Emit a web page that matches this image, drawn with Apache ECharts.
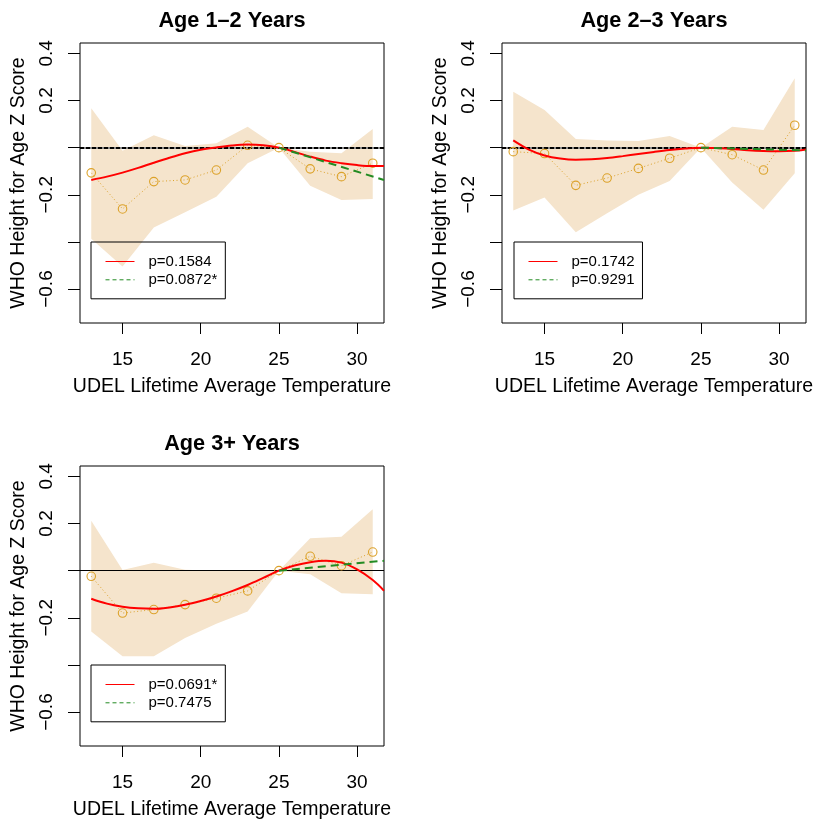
<!DOCTYPE html>
<html>
<head>
<meta charset="utf-8">
<script src="https://cdn.jsdelivr.net/npm/echarts@6/dist/echarts.min.js"></script>
<style>
  html, body { margin: 0; padding: 0; background: #fff; }
  #chart { width: 820px; height: 823px; }
</style>
</head>
<body>
<div id="chart"></div>
<script>
// Temperature bins (binned means with confidence band)
const binTemps = [13, 15, 17, 19, 21, 23, 25, 27, 29, 31];
// Temperatures at which the fitted spline curves are evaluated
const fitTemps = [13, 14, 15, 16, 17, 18, 19, 20, 21, 22, 23, 24, 25, 26, 27, 28, 29, 30, 31, 31.72];
// Temperatures for the linear spline piece above 25 degrees
const linTemps = [25, 31.72];

const panelTitles = ['Age 1\u20132 Years', 'Age 2\u20133 Years', 'Age 3+ Years'];
const xTickValues = [15, 20, 25, 30];
const yTickValues = [-0.6, -0.4, -0.2, 0, 0.2, 0.4];
const yLabelValues = [0.4, 0.2, -0.2, -0.6];

// Age 1-2
const mean1 = [-0.107, -0.260, -0.144, -0.137, -0.095, 0.010, 0, -0.090, -0.123, -0.066];
const upper1 = [0.167, -0.013, 0.053, 0.007, 0.019, 0.089, 0, -0.017, -0.024, 0.079];
const lower1 = [-0.387, -0.504, -0.339, -0.274, -0.208, -0.066, 0, -0.162, -0.222, -0.218];
const cubic1 = [-0.137, -0.123, -0.106, -0.086, -0.064, -0.043, -0.024, -0.009, 0.001, 0.009,
                0.013, 0.010, 0, -0.018, -0.038, -0.055, -0.066, -0.074, -0.078, -0.078];
const linear1 = [0, -0.137];
const pvals1 = ['p=0.1584', 'p=0.0872*'];

// Age 2-3
const mean2 = [-0.017, -0.025, -0.160, -0.129, -0.088, -0.045, 0, -0.030, -0.095, 0.095];
const upper2 = [0.237, 0.160, 0.037, 0.030, 0.028, 0.049, 0, 0.089, 0.075, 0.294];
const lower2 = [-0.267, -0.212, -0.359, -0.278, -0.200, -0.141, 0, -0.148, -0.264, -0.109];
const cubic2 = [0.031, -0.008, -0.033, -0.046, -0.051, -0.049, -0.044, -0.036, -0.027, -0.018,
                -0.010, -0.004, 0, -0.002, -0.006, -0.011, -0.014, -0.015, -0.013, -0.008];
const linear2 = [0, -0.012];
const pvals2 = ['p=0.1742', 'p=0.9291'];

// Age 3+
const mean3 = [-0.024, -0.180, -0.165, -0.144, -0.117, -0.086, 0, 0.061, 0.021, 0.079];
const upper3 = [0.212, 0.003, 0.034, 0.004, 0.000, -0.002, 0, 0.137, 0.144, 0.260];
const lower3 = [-0.258, -0.363, -0.363, -0.286, -0.225, -0.173, 0, -0.015, -0.096, -0.100];
const cubic3 = [-0.119, -0.140, -0.153, -0.160, -0.162, -0.156, -0.145, -0.129, -0.110, -0.087,
                -0.061, -0.031, 0, 0.022, 0.036, 0.042, 0.034, 0.005, -0.040, -0.085];
const linear3 = [0, 0.042];
const pvals3 = ['p=0.0691*', 'p=0.7475'];

const panels = [
  { mean: mean1, upper: upper1, lower: lower1, cubic: cubic1, linear: linear1, pv: pvals1, dashedZero: true },
  { mean: mean2, upper: upper2, lower: lower2, cubic: cubic2, linear: linear2, pv: pvals2, dashedZero: true },
  { mean: mean3, upper: upper3, lower: lower3, cubic: cubic3, linear: linear3, pv: pvals3, dashedZero: false }
];

const FONT = 'Liberation Sans, Arial, Helvetica, sans-serif';
const BAND = '#F5E4CC';
const GOLD = '#DCA22A';
const RED = '#FF0000';
const GREEN = '#228B22';

// layout of the three plotting regions
const boxes = [
  { left: 80, top: 43, width: 304, height: 280 },
  { left: 502, top: 43, width: 304, height: 280 },
  { left: 80, top: 466, width: 304, height: 280 }
];
const legendPos = [
  { left: 91, top: 242 },
  { left: 514, top: 242 },
  { left: 91, top: 665 }
];

const zip = (xs, ys) => xs.map((x, i) => [x, ys[i]]);
const fmtMinus = v => (v < 0 ? '\u2212' + Math.abs(v).toFixed(1) : v.toFixed(1));

const grid = [], xAxis = [], yAxis = [], series = [], legend = [], graphic = [];

panels.forEach((p, k) => {
  const b = boxes[k];
  grid.push({
    left: b.left, top: b.top, width: b.width, height: b.height,
    show: true, borderColor: '#000', borderWidth: 1, backgroundColor: 'transparent'
  });
  xAxis.push({
    type: 'value', gridIndex: k, min: 12.28, max: 31.72,
    name: 'UDEL Lifetime Average Temperature', nameLocation: 'middle', nameGap: 54,
    nameTextStyle: { fontFamily: FONT, fontSize: 19.5, color: '#000' },
    axisLine: { show: false, onZero: false },
    splitLine: { show: false },
    axisTick: { show: true, inside: false, length: 11, customValues: xTickValues,
                lineStyle: { color: '#000', width: 1 } },
    axisLabel: { show: true, margin: 27, customValues: xTickValues,
                 fontFamily: FONT, fontSize: 19, color: '#000' }
  });
  yAxis.push({
    type: 'value', gridIndex: k, min: -0.744, max: 0.444,
    name: 'WHO Height for Age Z Score', nameLocation: 'middle', nameGap: 51,
    nameTextStyle: { fontFamily: FONT, fontSize: 19.5, color: '#000' },
    axisLine: { show: false, onZero: false },
    splitLine: { show: false },
    axisTick: { show: true, inside: false, length: 12, customValues: yTickValues,
                lineStyle: { color: '#000', width: 1 } },
    axisLabel: { show: true, margin: 24, rotate: 90, customValues: yLabelValues,
                 formatter: v => fmtMinus(v),
                 fontFamily: FONT, fontSize: 19, color: '#000' }
  });

  const zeroLines = p.dashedZero
    ? [
        { yAxis: 0, lineStyle: { color: '#8a8a8a', width: 2, type: 'solid' } },
        { yAxis: 0, lineStyle: { color: '#000', width: 2, type: [4, 2] } }
      ]
    : [ { yAxis: 0, lineStyle: { color: '#000', width: 1, type: 'solid' } } ];

  // confidence band as one polygon: upper bound left to right, lower bound back
  const bandRows = binTemps.map((x, i) => [x, p.lower[i], p.upper[i]]);
  series.push({
    type: 'custom', xAxisIndex: k, yAxisIndex: k, name: 'band' + k,
    data: bandRows, silent: true, z: 1,
    encode: { x: 0, y: [1, 2] },
    renderItem: (params, api) => {
      if (params.dataIndex !== 0) return null;
      const top = bandRows.map(r => api.coord([r[0], r[2]]));
      const bottom = bandRows.map(r => api.coord([r[0], r[1]])).reverse();
      return {
        type: 'polygon',
        shape: { points: top.concat(bottom) },
        style: { fill: BAND, stroke: null }
      };
    }
  });
  // binned means
  series.push({
    type: 'line', xAxisIndex: k, yAxisIndex: k, name: 'means' + k,
    data: zip(binTemps, p.mean),
    symbol: 'circle', symbolSize: 8.5, showSymbol: true, silent: true, z: 3,
    itemStyle: { color: 'rgba(0,0,0,0)', borderColor: GOLD, borderWidth: 1.1 },
    lineStyle: { color: GOLD, width: 1, type: [1, 2.5] },
    markLine: {
      silent: true, symbol: ['none', 'none'], label: { show: false },
      animation: false, z: 2, data: zeroLines
    }
  });
  // cubic spline fit
  series.push({
    type: 'line', xAxisIndex: k, yAxisIndex: k, name: p.pv[0],
    data: zip(fitTemps, p.cubic),
    symbol: 'none', smooth: 0.35, silent: true, z: 4,
    itemStyle: { color: RED },
    lineStyle: { color: RED, width: 2 }
  });
  // linear spline piece
  series.push({
    type: 'line', xAxisIndex: k, yAxisIndex: k, name: p.pv[1],
    data: zip(linTemps, p.linear),
    symbol: 'none', silent: true, z: 5,
    itemStyle: { color: GREEN },
    lineStyle: { color: GREEN, width: 2, type: [8, 5] }
  });

  legend.push({
    left: legendPos[k].left, top: legendPos[k].top,
    orient: 'vertical', selectedMode: false,
    backgroundColor: 'transparent', borderColor: '#000', borderWidth: 1,
    padding: [12, 8, 11.5, 14],
    itemWidth: 29, itemHeight: 15, itemGap: 3.3,
    textStyle: { fontFamily: FONT, fontSize: 15, color: '#000', padding: [0, 0, 0, 9], lineHeight: 15 },
    data: [
      { name: p.pv[0], itemStyle: { opacity: 0 }, lineStyle: { color: RED, width: 1, type: 'solid' } },
      { name: p.pv[1], itemStyle: { opacity: 0 }, lineStyle: { color: GREEN, width: 1, type: [4, 3] } }
    ]
  });

  graphic.push({
    type: 'text', silent: true,
    x: b.left + b.width / 2, y: b.top - 21.5,
    style: {
      text: panelTitles[k], fill: '#000',
      font: 'bold 21.7px ' + FONT,
      textAlign: 'center', textVerticalAlign: 'middle'
    }
  });
});

const chart = echarts.init(document.getElementById('chart'), null, { renderer: 'canvas' });
chart.setOption({
  animation: false,
  backgroundColor: '#fff',
  grid, xAxis, yAxis, series, legend, graphic
});
</script>
</body>
</html>
